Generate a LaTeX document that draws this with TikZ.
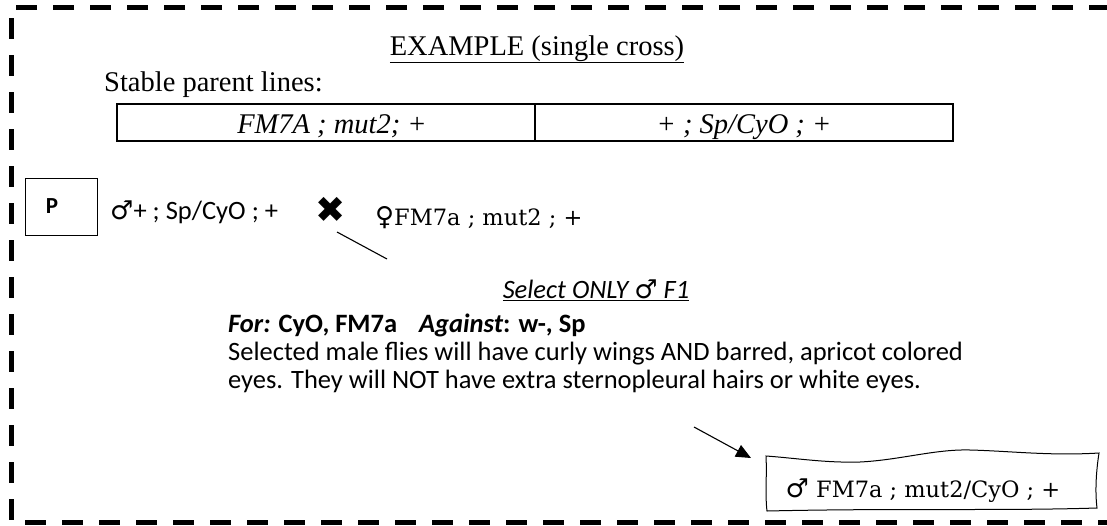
\documentclass[tikz,border=0pt]{standalone}
\usepackage{fontspec}
\setmainfont{Liberation Serif}
\newfontfamily\calfont{Carlito}
\newfontfamily\symfont{DejaVu Sans}
\newfontfamily\cambfont{DejaVu Serif}
\usetikzlibrary{arrows.meta}
\newcommand{\sexsym}[1]{{\upshape\symfont\fontsize{26}{28}\selectfont #1}}
\tikzset{
  border/.style={line width=5pt, dash pattern=on 21pt off 16pt},
  times/.style={font=\fontsize{28.5}{32}\selectfont},
  cal/.style={font=\calfont\fontsize{26.5}{29}\selectfont},
  camb/.style={font=\cambfont\fontsize{22.5}{26}\selectfont},
  cell/.style={draw, line width=1.6pt, minimum height=37pt, minimum width=418pt, inner sep=0pt, anchor=north west},
  txt/.style={inner sep=0pt},
  conn/.style={line width=1.1pt},
}
\begin{document}
\begin{tikzpicture}[x=1pt,y=-1pt]
\useasboundingbox (0,0) rectangle (1107,525);
\draw[border] (1110,7) -- (11,7) -- (11,522) -- (1110,522);

\node[times, txt, anchor=base] (title) at (537,55) {\underline{EXAMPLE (single cross)}};
\node[times, txt, anchor=base west] (stable) at (104,91) {Stable parent lines:};

\node[cell] (cellA) at (116,103) {};
\node[cell] (cellB) at (534,103) {};
\node[times, txt, anchor=base, font=\itshape\fontsize{28.5}{32}\selectfont] (textA) at (332,133) {FM7A ; mut2; +};
\node[times, txt, anchor=base, font=\itshape\fontsize{28.5}{32}\selectfont] (textB) at (744,133) {+ ; Sp/CyO ; +};

\node[draw, line width=0.8pt, minimum width=72pt, minimum height=57pt, inner sep=0pt] (P) at (61,206.5) {};
\node[txt, font=\calfont\bfseries\fontsize{23}{26}\selectfont, anchor=base] (Plabel) at (52,213) {P};

\node[cal, txt, anchor=base west] (male) at (110,219) {\sexsym{♂}+ ; Sp/CyO ; +};
\node[txt, font=\symfont\fontsize{36}{40}\selectfont] (cross) at (331,210) {✖};
\node[camb, txt, anchor=base west] (female) at (375,225) {\sexsym{♀}FM7a ; mut2 ; +};

\coordinate (l1) at (337,232);
\coordinate (l2) at (387,259);
\draw[conn] (l1) -- (l2);

\node[cal, txt, anchor=base, font=\calfont\itshape\fontsize{26.5}{29}\selectfont] (select) at (596,298) {\underline{Select ONLY \sexsym{♂} F1}};
\node[cal, txt, anchor=base west] (for) at (228,332) {\textbf{\textit{For:} CyO, FM7a\hspace{22pt}\textit{Against}: w-, Sp}};
\node[cal, txt, anchor=base west] (sent1) at (228,360) {Selected male flies will have curly wings AND barred, apricot colored};
\node[cal, txt, anchor=base west] (sent2) at (228,388) {eyes. They will NOT have extra sternopleural hairs or white eyes.};

\draw[line width=1pt] (766,456) .. controls (795,458) and (825,463) .. (860,462)
  .. controls (900,460) and (935,449) .. (970,450)
  .. controls (1010,451) and (1050,456) .. (1099,453)
  .. controls (1096,472) and (1095,492) .. (1097,508)
  .. controls (1000,511) and (900,508) .. (767,511)
  .. controls (765,495) and (767,475) .. cycle;
\node[camb, txt, anchor=base] (result) at (923,497) {\sexsym{♂} FM7a ; mut2/CyO ; +};

\coordinate (a1) at (694,427);
\coordinate (a2) at (751,458);
\draw[conn, -{Triangle[length=15pt,width=13pt]}] (a1) -- (a2);
\end{tikzpicture}
\end{document}
